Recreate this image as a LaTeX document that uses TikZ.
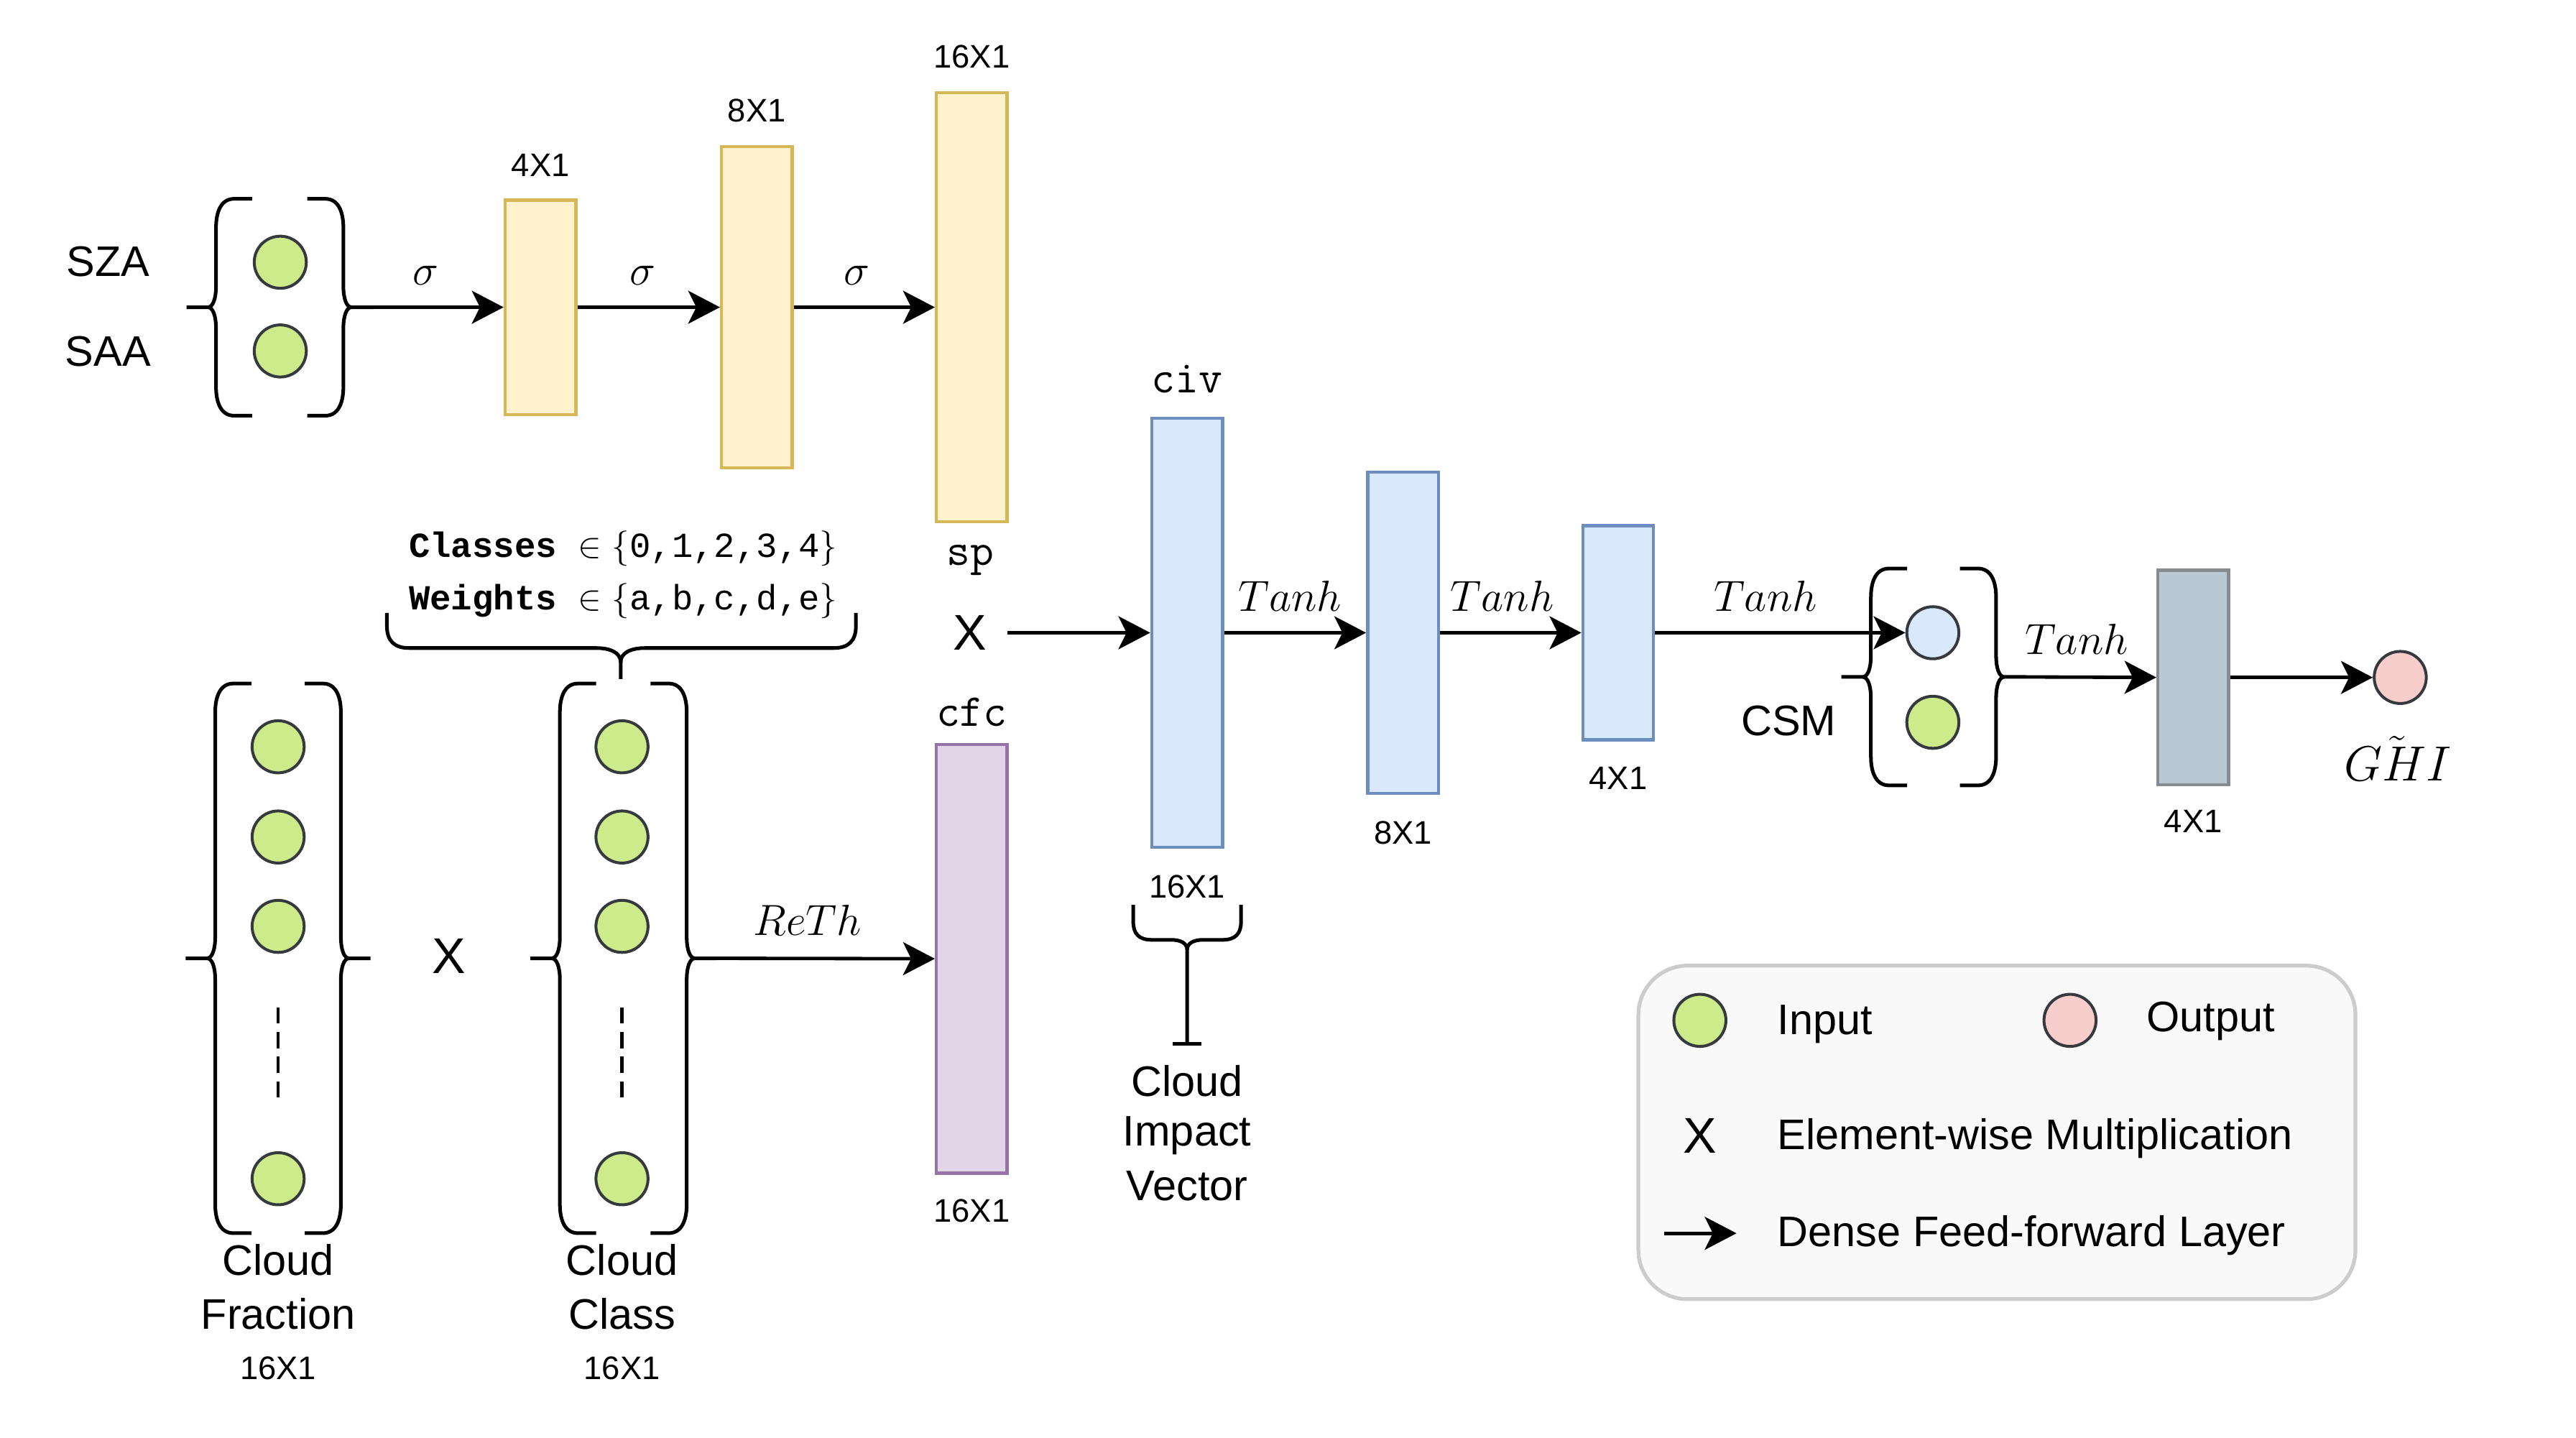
\RequirePackage{fix-cm}
\documentclass[tikz,border=0pt]{standalone}
\usepackage[no-math]{fontspec}
\setmainfont{Liberation Sans}
\newfontfamily\courfont{Liberation Mono}
\usetikzlibrary{arrows.meta}
\definecolor{yfill}{HTML}{FFF2CC}\definecolor{ydraw}{HTML}{D6B656}
\definecolor{bfill}{HTML}{DAE8FC}\definecolor{bdraw}{HTML}{6C8EBF}
\definecolor{pfill}{HTML}{E1D5E7}\definecolor{pdraw}{HTML}{9673A6}
\definecolor{gfill}{HTML}{BAC8D3}\definecolor{gdraw}{HTML}{858B90}
\definecolor{cgreen}{HTML}{CDEB8B}\definecolor{cpink}{HTML}{F8CECC}
\definecolor{cstroke}{HTML}{36393D}
\definecolor{lgfill}{HTML}{F9F9F9}\definecolor{lgdraw}{HTML}{CCCCCC}
\newcommand\pxu{0.02cm}
% vertical curly brace: #1 line x, #2 top y, #3 bottom y, #4 direction (1 = tip left, -1 = tip right), #5 tip name
\newcommand\vbrace[5]{%
  \pgfmathsetmacro\bmid{(#2+#3)/2}%
  \pgfmathsetmacro\bxa{#1+22*#4}\pgfmathsetmacro\bxb{#1+11*#4}\pgfmathsetmacro\bxc{#1+3*#4}%
  \pgfmathsetmacro\bxd{#1-2*#4}\pgfmathsetmacro\bxe{#1-5*#4}\pgfmathsetmacro\bxt{#1-18*#4}%
  \pgfmathsetmacro\bya{#2+8}\pgfmathsetmacro\byb{#2+17.5}%
  \pgfmathsetmacro\byc{\bmid-13}\pgfmathsetmacro\byd{\bmid-5}%
  \pgfmathsetmacro\bye{\bmid+5}\pgfmathsetmacro\byf{\bmid+13}%
  \pgfmathsetmacro\byg{#3-17.5}\pgfmathsetmacro\byh{#3-8}%
  \draw[brc] (\bxa,#2) -- (\bxb,#2) .. controls (\bxc,#2) and (#1,\bya) .. (#1,\byb)
    -- (#1,\byc) .. controls (#1,\byd) and (\bxd,\bmid) .. (\bxe,\bmid) -- (\bxt,\bmid) coordinate (#5)
    (\bxt,\bmid) -- (\bxe,\bmid) .. controls (\bxd,\bmid) and (#1,\bye) .. (#1,\byf)
    -- (#1,\byg) .. controls (#1,\byh) and (\bxc,#3) .. (\bxb,#3) -- (\bxa,#3);
}
\begin{document}
\begin{tikzpicture}[x=0.02cm, y=-0.02cm,
  bar/.style={draw, line width=1.1pt, inner sep=0pt, minimum width=43*\pxu},
  tallbar/.style={bar, minimum height=261*\pxu},
  midbar/.style={bar, minimum height=195.5*\pxu},
  shortbar/.style={bar, minimum height=130.5*\pxu},
  ybar/.style={fill=yfill, draw=ydraw},
  bbar/.style={fill=bfill, draw=bdraw},
  neuron/.style={circle, draw=cstroke, line width=1pt, minimum size=31.7*\pxu, inner sep=0pt},
  arr/.style={line width=1.2pt, -{Stealth[length=11pt,width=11.4pt,inset=2.8pt]}},
  brc/.style={line width=1.25pt, line join=round},
  dotsep/.style={line width=1.1pt, dash pattern=on 5.7pt off 2.85pt},
  lbl/.style={font=\fontsize{14.8pt}{18pt}\selectfont, inner sep=0pt, anchor=base},
  lgl/.style={lbl, anchor=base west},
  dimlbl/.style={font=\fontsize{11.3pt}{13pt}\selectfont, inner sep=0pt, anchor=base},
  mth/.style={font=\fontsize{15.1pt}{18pt}\selectfont, inner sep=0pt, anchor=base},
  mono/.style={font=\fontsize{15.9pt}{18pt}\selectfont\ttfamily, inner sep=0pt, anchor=base},
  cls/.style={font=\fontsize{12.2pt}{14pt}\selectfont\courfont, inner sep=0pt, anchor=base},
  mulx/.style={font=\fontsize{17.4pt}{20pt}\selectfont, inner sep=0pt, anchor=base},
]
\useasboundingbox (0,0) rectangle (1568,875);

% ---------- top branch: SZA / SAA ----------
\node[neuron, fill=cgreen] (sza) at (170.6,159.6) {};
\node[neuron, fill=cgreen] (saa) at (170.6,213.6) {};
\node[lbl] (szat) at (65.7,168.3) {SZA};
\node[lbl] (saat) at (65.7,222.9) {SAA};
\vbrace{131.5}{121}{253}{1}{szaL}
\vbrace{209}{121}{253}{-1}{szaR}

\node[shortbar, ybar] (y1) at (329,187) {};
\node[midbar, ybar] (y2) at (460.7,187) {};
\node[tallbar, ybar] (y3) at (591.5,187) {};
\node[dimlbl] (y1d) at (329,107.3) {4X1};
\node[dimlbl] (y2d) at (460.7,74) {8X1};
\node[dimlbl] (y3d) at (591.5,41.5) {16X1};
\node[mono] (spt) at (590.5,344) {sp};
\node[mth] (s1) at (259.3,173.5) {$\sigma$};
\node[mth] (s2) at (391,173.5) {$\sigma$};
\node[mth] (s3) at (521.7,173.5) {$\sigma$};
\draw[arr] (szaR) -- (y1.west);
\draw[arr] (y1.east) -- (y2.west);
\draw[arr] (y2.east) -- (y3.west);

% ---------- cloud inputs ----------
\foreach \nm/\yy in {1/454.5,2/509.4,3/563.8,4/717.4}{
  \node[neuron, fill=cgreen] (cf\nm) at (169.3,\yy) {};
  \node[neuron, fill=cgreen] (cc\nm) at (378.6,\yy) {};
}
\coordinate (cfda) at (169.3,613);
\coordinate (cfdb) at (169.3,672);
\coordinate (ccda) at (378.6,613);
\coordinate (ccdb) at (378.6,672);
\draw[dotsep] (cfda) -- (cfdb);
\draw[dotsep] (ccda) -- (ccdb);
\vbrace{131}{416}{750.5}{1}{cfL}
\vbrace{207.5}{416}{750.5}{-1}{cfR}
\vbrace{340.8}{416}{750.5}{1}{ccL}
\vbrace{418}{416}{750.5}{-1}{ccR}
\node[mulx] (mx2) at (273.2,592.3) {X};
\node[lbl] (cft1) at (169.3,776) {Cloud};
\node[lbl] (cft2) at (169.3,809) {Fraction};
\node[dimlbl] (cfd) at (169.3,839.5) {16X1};
\node[lbl] (cct1) at (378.6,776) {Cloud};
\node[lbl] (cct2) at (378.6,809) {Class};
\node[dimlbl] (ccd) at (378.6,839.5) {16X1};

% brace over cloud class
\draw[brc] (235.5,373) -- (235.5,381) .. controls (235.5,390) and (240,394.4) .. (249,394.4)
  -- (363,394.4) .. controls (371,394.4) and (377.8,397) .. (377.8,403) -- (377.8,413.3);
\draw[brc] (521,373) -- (521,381) .. controls (521,390) and (516.5,394.4) .. (507.5,394.4)
  -- (392.6,394.4) .. controls (384.6,394.4) and (377.8,397) .. (377.8,403);
\node[cls] (clst) at (379.3,339) {{\bfseries Classes} $\in$\hspace{0.3em}$\{$0,1,2,3,4$\}$};
\node[cls] (wgtt) at (379.3,371) {{\bfseries Weights} $\in$\hspace{0.3em}$\{$a,b,c,d,e$\}$};

% cfc
\node[tallbar, fill=pfill, draw=pdraw] (cfc) at (591.5,583.5) {};
\node[mono] (cfct) at (591.5,442) {cfc};
\node[dimlbl] (cfcd) at (591.5,743.7) {16X1};
\node[mth] (reth) at (491.5,569.4) {$ReTh$};
\draw[arr] (ccR) -- (cfc.west);

% ---------- civ and dense layers ----------
\node[mulx] (mx1) at (590.5,395.8) {X};
\coordinate (mxo) at (613,385.1);
\node[tallbar, bbar] (civ) at (722.6,385.1) {};
\node[mono] (civt) at (722.6,239) {civ};
\node[dimlbl] (civd) at (722.6,546.7) {16X1};
\node[midbar, bbar] (b2) at (854,385.1) {};
\node[dimlbl] (b2d) at (854,513.5) {8X1};
\node[shortbar, bbar] (b3) at (985,385.1) {};
\node[dimlbl] (b3d) at (985,480.5) {4X1};
\draw[arr] (mxo) -- (civ.west);
\draw[arr] (civ.east) -- (b2.west);
\draw[arr] (b2.east) -- (b3.west);
\node[mth] (t1) at (785.2,371.8) {$Tanh$};
\node[mth] (t2) at (914.3,371.8) {$Tanh$};
\node[mth] (t3) at (1074.6,371.8) {$Tanh$};
\node[mth] (t4) at (1264,398.3) {$Tanh$};

% brace under civ
\draw[brc] (689.8,550.7) -- (689.8,561) .. controls (689.8,568) and (693,572) .. (701,572)
  -- (713,572) .. controls (718.5,572) and (722.6,574) .. (722.6,578) -- (722.6,635.4);
\draw[brc] (755.4,550.7) -- (755.4,561) .. controls (755.4,568) and (752.2,572) .. (744.2,572)
  -- (732.2,572) .. controls (726.7,572) and (722.6,574) .. (722.6,578);
\draw[brc] (713.9,635.4) -- (731.3,635.4);
\node[lbl] (civ1) at (722.6,667) {Cloud};
\node[lbl] (civ2) at (722.6,697.6) {Impact};
\node[lbl] (civ3) at (722.6,730.5) {Vector};

% ---------- CSM and output ----------
\node[neuron, fill=bfill] (csm1) at (1176.5,385.1) {};
\node[neuron, fill=cgreen] (csm2) at (1176.5,439.6) {};
\vbrace{1138.8}{346}{478}{1}{csmL}
\vbrace{1215}{346}{478}{-1}{csmR}
\node[lbl] (csmt) at (1088.8,447.6) {CSM};
\draw[arr] (b3.east) -- (csm1.west);
\node[shortbar, fill=gfill, draw=gdraw] (gr) at (1335,412.3) {};
\node[dimlbl] (grd) at (1335,506.5) {4X1};
\node[neuron, fill=cpink] (out) at (1461,412.3) {};
\node[font=\fontsize{17.1pt}{20pt}\selectfont, inner sep=0pt, anchor=base] (ghi) at (1459.4,475.3) {$\tilde{GHI}$};
\draw[arr] (csmR) -- (gr.west);
\draw[arr] (gr.east) -- (out.west);

% ---------- legend ----------
\node[draw=lgdraw, fill=lgfill, line width=1.3pt, rounded corners=0.6cm,
      minimum width=436.5*\pxu, minimum height=203*\pxu, inner sep=0pt] (legend) at (1215.5,689.2) {};
\node[neuron, fill=cgreen] (lg1) at (1034.7,621) {};
\node[lgl] (lgin) at (1081.6,629.5) {Input};
\node[neuron, fill=cpink] (lg2) at (1260,621) {};
\node[lgl] (lgout) at (1306.2,628) {Output};
\node[mulx] (lgx) at (1034.7,701.9) {X};
\node[lgl] (lgmul) at (1081.6,699.6) {Element-wise Multiplication};
\coordinate (lga) at (1013,750.6);
\coordinate (lgb) at (1057,750.6);
\draw[arr] (lga) -- (lgb);
\node[lgl] (lgden) at (1081.6,758.5) {Dense Feed-forward Layer};
\end{tikzpicture}
\end{document}
